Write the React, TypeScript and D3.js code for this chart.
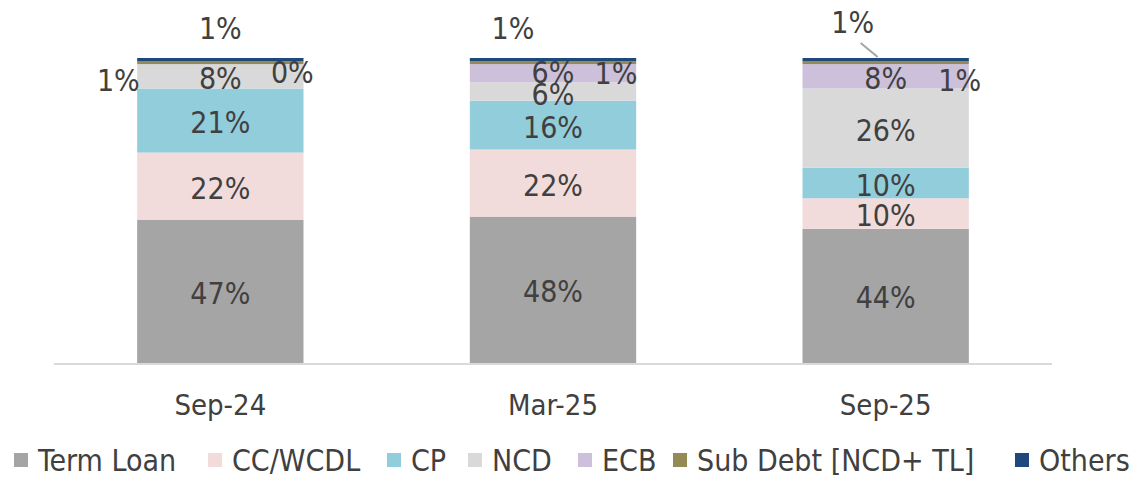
import React from "react";
import * as d3 from "d3";

const periods = ["Sep-24", "Mar-25", "Sep-25"];
const seriesNames = ["Term Loan", "CC/WCDL", "CP", "NCD", "ECB", "Sub Debt [NCD+ TL]", "Others"];
const termLoan = [47, 48, 44];
const ccWcdl = [22, 22, 10];
const cp = [21, 16, 10];
const ncd = [8, 6, 26];
const ecb = [0, 6, 8];
const subDebt = [1, 1, 1];
const others = [1, 1, 1];
const colors = ["#a5a5a5", "#f2dcdb", "#92cddc", "#d9d9d9", "#ccc0da", "#948a54", "#1f497d"];

// labels for the thin segments sit outside the bar: [series, period] -> offset from bar centre / absolute y
const outsideLabels: Record<string, { x: number; y: number }> = {
  "6-0": { x: 0, y: 28 },
  "5-0": { x: -102, y: 80 },
  "4-0": { x: 72, y: 72 },
  "6-1": { x: -40, y: 28 },
  "5-1": { x: 63, y: 73 },
  "6-2": { x: -33, y: 22 },
  "5-2": { x: 74, y: 80 },
};

export default function App() {
  const width = 1137;
  const height = 477;
  const font = "'DejaVu Sans Condensed', 'DejaVu Sans', Verdana, sans-serif";
  const textColor = "#404040";

  const rows = periods.map((p, i) => ({
    period: p,
    "Term Loan": termLoan[i],
    "CC/WCDL": ccWcdl[i],
    CP: cp[i],
    NCD: ncd[i],
    ECB: ecb[i],
    "Sub Debt [NCD+ TL]": subDebt[i],
    Others: others[i],
  }));
  const stacked = d3.stack<any>().keys(seriesNames)(rows);

  const x = d3.scaleBand().domain(periods).range([54, 1052]).paddingInner(0.5).paddingOuter(0.25);
  const y = d3.scaleLinear().domain([0, 100]).range([363, 58]);

  const legendX = [14, 208, 387, 468, 578, 673, 1015];

  return (
    <svg width={width} height={height} style={{ position: "absolute", left: 0, top: 0 }}>
      {stacked.map((s, si) =>
        s.map((d, pi) => (
          <rect
            key={`${si}-${pi}`}
            x={x(periods[pi])}
            y={y(d[1])}
            width={x.bandwidth()}
            height={Math.max(0, y(d[0]) - y(d[1]))}
            fill={colors[si]}
          />
        ))
      )}
      <line x1={54} x2={1052} y1={364} y2={364} stroke="#d9d9d9" strokeWidth={2} />
      {stacked.map((s, si) =>
        s.map((d, pi) => {
          const cx = (x(periods[pi]) as number) + x.bandwidth() / 2;
          const key = `${si}-${pi}`;
          const out = outsideLabels[key];
          let lx = cx;
          let ly = (y(d[0]) + y(d[1])) / 2 + 2;
          if (out) {
            lx = cx + out.x;
            ly = out.y;
          } else if (si === 4 && pi === 1) {
            ly -= 3;
          } else if (si === 3 && pi === 1) {
            ly += 1;
          }
          return (
            <g key={"l" + key}>
              {si === 6 && pi === 2 && (
                <line x1={cx - 25} y1={43} x2={cx - 8} y2={57} stroke="#a5a5a5" strokeWidth={2} />
              )}
              <text
                x={lx}
                y={ly}
                textAnchor="middle"
                dominantBaseline="central"
                fontFamily={font}
                fontSize={30}
                fill={textColor}
              >
                {d.data[seriesNames[si]]}%
              </text>
            </g>
          );
        })
      )}
      {periods.map((p) => (
        <text
          key={p}
          x={(x(p) as number) + x.bandwidth() / 2}
          y={405}
          textAnchor="middle"
          dominantBaseline="central"
          fontFamily={font}
          fontSize={29}
          fill={textColor}
        >
          {p}
        </text>
      ))}
      {seriesNames.map((n, i) => (
        <g key={n} transform={`translate(${legendX[i]},460)`}>
          <rect x={0} y={-7} width={14} height={14} fill={colors[i]} />
          <text x={24} y={0} dominantBaseline="central" fontFamily={font} fontSize={30} fill={textColor}>
            {n}
          </text>
        </g>
      ))}
    </svg>
  );
}
